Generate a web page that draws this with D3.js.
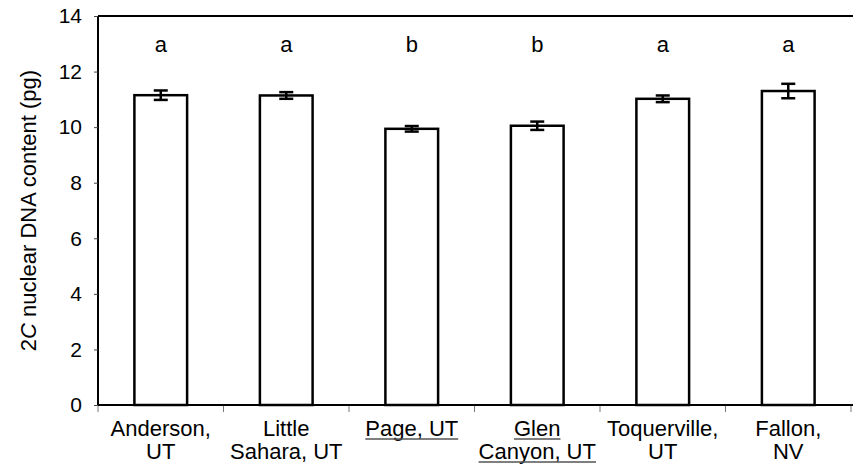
<!DOCTYPE html>
<html>
<head>
<meta charset="utf-8">
<script src="https://cdn.jsdelivr.net/npm/d3@7"></script>
<style>
  body { margin: 0; background: #fff; }
  svg text { font-family: "Liberation Sans", Arial, sans-serif; fill: #000; }
</style>
</head>
<body>
<div id="chart"></div>
<script>
// data
var sites = ["Anderson, UT", "Little Sahara, UT", "Page, UT", "Glen Canyon, UT", "Toquerville, UT", "Fallon, NV"];
var labelLines = [["Anderson,", "UT"], ["Little", "Sahara, UT"], ["Page, UT"], ["Glen", "Canyon, UT"], ["Toquerville,", "UT"], ["Fallon,", "NV"]];
var underlined = [false, false, true, true, false, false];
var dnaMean = [11.15, 11.14, 9.94, 10.05, 11.02, 11.30];
var dnaErr = [0.17, 0.12, 0.10, 0.15, 0.12, 0.26];
var groups = ["a", "a", "b", "b", "a", "a"];
var yTicks = [0, 2, 4, 6, 8, 10, 12, 14];

var svgWidth = 853;
var svgHeight = 464;

var margin = { top: 16, right: 2, bottom: 59, left: 98 };
var width = svgWidth - margin.left - margin.right;
var height = svgHeight - margin.top - margin.bottom;

var svg = d3.select("#chart")
    .append("svg")
    .attr("width", svgWidth)
    .attr("height", svgHeight);

var chartGroup = svg.append("g")
    .attr("transform", `translate(${margin.left}, ${margin.top})`);

var xScale = d3.scaleBand()
    .domain(sites)
    .range([0, 6 * 125.5])
    .padding(0);

var yScale = d3.scaleLinear()
    .domain([0, 14])
    .range([height, 0]);

var barW = xScale.bandwidth() * 0.42;

// top frame line
chartGroup.append("line")
    .attr("x1", 0).attr("x2", svgWidth - margin.left)
    .attr("y1", 0).attr("y2", 0)
    .attr("stroke", "#000").attr("stroke-width", 2);

// y axis
var leftAxis = d3.axisLeft(yScale).tickValues(yTicks).tickSize(4).tickPadding(12);
var yAxis = chartGroup.append("g").call(leftAxis);
yAxis.attr("font-size", 21).attr("font-family", "Liberation Sans, Arial, sans-serif");
yAxis.select(".domain").attr("stroke-width", 2).attr("d", `M0,0V${height}`);
yAxis.selectAll(".tick line").attr("stroke", "#444");

// category ticks below bottom line
var tickPos = d3.range(sites.length + 1).map(i => i * xScale.step());
chartGroup.selectAll(".cat-tick")
    .data(tickPos)
    .enter()
    .append("line")
    .attr("x1", d => d).attr("x2", d => d)
    .attr("y1", height).attr("y2", height + 7)
    .attr("stroke", "#777").attr("stroke-width", 1);

// bars
chartGroup.selectAll("rect.bar")
    .data(sites)
    .enter()
    .append("rect")
    .attr("class", "bar")
    .attr("x", (d, i) => xScale(d) + (xScale.bandwidth() - barW) / 2)
    .attr("y", (d, i) => yScale(dnaMean[i]))
    .attr("width", barW)
    .attr("height", (d, i) => height - yScale(dnaMean[i]))
    .attr("fill", "#fff")
    .attr("stroke", "#000")
    .attr("stroke-width", 2.5);

// bottom line on top of bars
chartGroup.append("line")
    .attr("x1", 0).attr("x2", svgWidth - margin.left)
    .attr("y1", height).attr("y2", height)
    .attr("stroke", "#000").attr("stroke-width", 2);

// error bars
var capW = 7;
sites.forEach(function(s, i) {
    var cx = xScale(s) + xScale.bandwidth() / 2;
    var yHi = yScale(dnaMean[i] + dnaErr[i]);
    var yLo = yScale(dnaMean[i] - dnaErr[i]);
    var g = chartGroup.append("g").attr("stroke", "#000").attr("stroke-width", 2.5);
    g.append("line").attr("x1", cx).attr("x2", cx).attr("y1", yHi).attr("y2", yLo);
    g.append("line").attr("x1", cx - capW).attr("x2", cx + capW).attr("y1", yHi).attr("y2", yHi);
    g.append("line").attr("x1", cx - capW).attr("x2", cx + capW).attr("y1", yLo).attr("y2", yLo);
});

// significance letters
chartGroup.selectAll("text.grp")
    .data(groups)
    .enter()
    .append("text")
    .attr("class", "grp")
    .attr("x", (d, i) => xScale(sites[i]) + xScale.bandwidth() / 2)
    .attr("y", yScale(12.72))
    .attr("text-anchor", "middle")
    .attr("font-size", 22)
    .text(d => d);

// category labels
sites.forEach(function(s, i) {
    var cx = xScale(s) + xScale.bandwidth() / 2;
    labelLines[i].forEach(function(line, j) {
        var ty = height + 31 + j * 23;
        var t = chartGroup.append("text")
            .attr("x", cx)
            .attr("y", ty)
            .attr("text-anchor", "middle")
            .attr("font-size", 22)
            .text(line);
        if (underlined[i]) {
            var w = t.node().getComputedTextLength();
            chartGroup.append("line")
                .attr("x1", cx - w / 2).attr("x2", cx + w / 2)
                .attr("y1", ty + 3).attr("y2", ty + 3)
                .attr("stroke", "#555").attr("stroke-width", 1.5);
        }
    });
});

// y axis label
var yLabel = chartGroup.append("text")
    .attr("transform", "rotate(-90)")
    .attr("x", -height / 2)
    .attr("y", -62)
    .attr("text-anchor", "middle")
    .attr("font-size", 22);
yLabel.append("tspan").text("2");
yLabel.append("tspan").attr("font-style", "italic").text("C");
yLabel.append("tspan").text(" nuclear DNA content (pg)");
</script>
</body>
</html>
